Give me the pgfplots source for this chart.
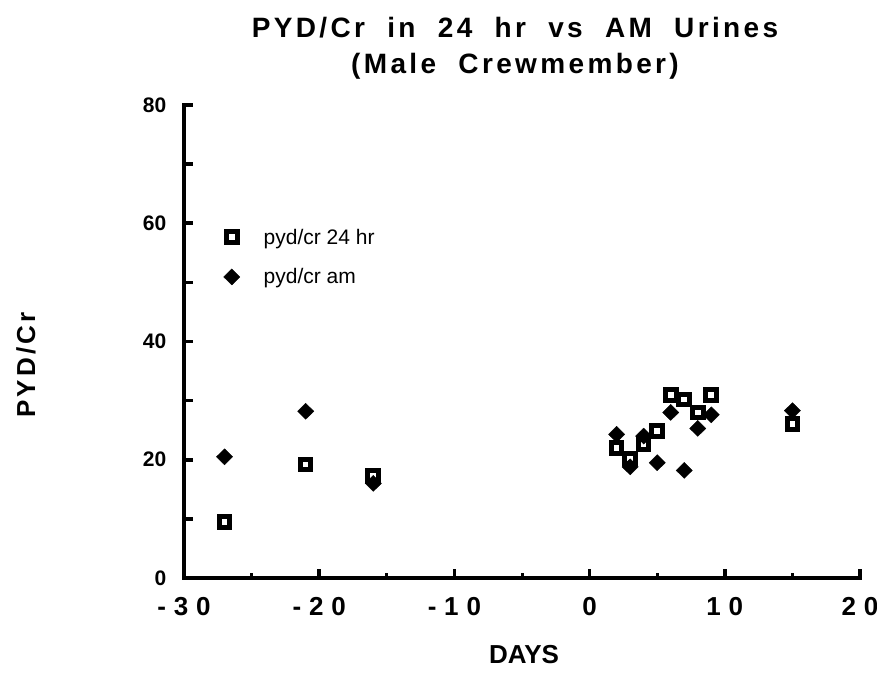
\documentclass[border=0pt]{standalone}
\usepackage{fontspec}
\setmainfont{Liberation Sans}
\newfontfamily\titlefont[LetterSpace=12]{Liberation Sans}
\newfontfamily\labfont[LetterSpace=12]{Liberation Sans}
\newfontfamily\tickfont[LetterSpace=30]{Liberation Sans}
\usepackage{pgfplots}
\pgfplotsset{compat=1.18}
\begin{document}
\begin{tikzpicture}[x=1pt,y=1pt]
\useasboundingbox (0,0) rectangle (877,683);
\begin{axis}[
  at={(184pt,105pt)}, anchor=south west,
  scale only axis, width=676pt, height=473pt,
  xmin=-30, xmax=20, ymin=0, ymax=80,
  axis lines=left,
  axis line style={draw=none},
  /pgf/number format/assume math mode=true,
  xtick={-30,-20,-10,0,10,20},
  xticklabels={-30,-20,-10,0,10,20},
  minor xtick={-25,-15,-5,5,15},
  ytick={0,20,40,60,80},
  minor ytick={10,30,50,70},
  tick style={draw=none},
  xticklabel style={font=\fontsize{26}{30}\selectfont\bfseries\tickfont, anchor=north, yshift=-14pt},
  yticklabel style={font=\fontsize{21}{25}\selectfont\bfseries, anchor=east, xshift=-12pt},
  legend style={draw=none, fill=none, font=\fontsize{21}{25}\selectfont,
    at={(0.054,0.747)}, anchor=north west, row sep=19pt,
    legend cell align=left},
  legend image code/.code={\path[draw=none] (0cm,0cm) -- (1.3cm,0cm); \draw[#1] plot coordinates {(0.25cm,0cm)};},
  clip=false,
]
% axis frame and ticks
\draw[line width=4pt, line cap=rect] (axis cs:-30,80) -- (axis cs:-30,0) -- (axis cs:20,0);
\pgfplotsinvokeforeach{-30,-20,-10,0,10,20}{\draw[line width=3.5pt] (axis cs:#1,0) -- ++(0pt,9pt);}
\pgfplotsinvokeforeach{-25,-15,-5,5,15}{\draw[line width=3pt] (axis cs:#1,0) -- ++(0pt,5pt);}
\pgfplotsinvokeforeach{10,20,30,40,50,60,70,80}{\draw[line width=3.5pt] (axis cs:-30,#1) -- ++(9pt,0pt);}
\addplot[only marks, mark=square, mark size=5.3pt, line width=5pt, black]
  coordinates {(-27,9.5) (-21,19.2) (-16,17.3) (2,22) (3,20.2) (4,22.6) (5,24.9) (6,31) (7,30.2) (8,28) (9,31) (15,26)};
\addlegendentry{pyd/cr 24 hr}
\addplot[only marks, mark=diamond*, mark size=8pt, mark options={xscale=1.35}, black]
  coordinates {(-27,20.5) (-21,28.2) (-16,16) (2,24.3) (3,18.8) (4,24) (5,19.5) (6,28) (7,18.2) (8,25.3) (9,27.6) (15,28.3)};
\addlegendentry{pyd/cr am}
\end{axis}
\node[font=\fontsize{28}{32}\selectfont\bfseries\titlefont] at (515,655) {PYD/Cr\ \ in\ \ 24\ \ hr\ \ vs\ \ AM\ \ Urines};
\node[font=\fontsize{28}{32}\selectfont\bfseries\titlefont] at (515,617) {(Male\ \ Crewmember)};
\node[font=\fontsize{26}{30}\selectfont\bfseries\labfont, rotate=90] at (26,318) {PYD/Cr};
\node[font=\fontsize{26}{30}\selectfont\bfseries] at (524,28) {DAYS};
\end{tikzpicture}
\end{document}
